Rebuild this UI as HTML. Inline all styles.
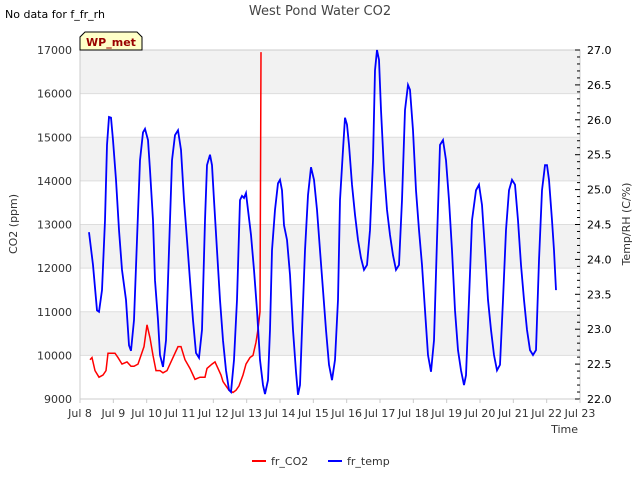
<!DOCTYPE html>
<html><head><meta charset="utf-8"><style>
body{margin:0;background:#fff;font-family:"Liberation Sans","DejaVu Sans",sans-serif}
svg text{font-family:"DejaVu Sans","Liberation Sans",sans-serif}
</style></head><body>
<svg id="chart" width="640" height="480" xmlns="http://www.w3.org/2000/svg">
<g id="bg"></g><g id="axes"></g><g id="marks"></g>
<text x="320" y="15" text-anchor="middle" font-size="13" fill="#444">West Pond Water CO2</text>
<text x="5" y="18" font-size="11" fill="#000">No data for f_fr_rh</text>
<g>
<path d="M80,50 L80,37 L85,32 L137,32 L142,37 L142,50 Z" fill="#ffffc8" stroke="#000" stroke-width="1"/>
<text x="111" y="46" text-anchor="middle" font-size="11" font-weight="bold" fill="#990000">WP_met</text>
</g>
<text transform="translate(17,224) rotate(-90)" text-anchor="middle" font-size="11" fill="#333">CO2 (ppm)</text>
<text transform="translate(630,224) rotate(-90)" text-anchor="middle" font-size="11" fill="#333">Temp/RH (C/%)</text>
<text x="578" y="433" text-anchor="end" font-size="11" fill="#333">Time</text>
<g>
<line x1="252" y1="461" x2="266" y2="461" stroke="#f00" stroke-width="2"/>
<text x="271" y="465" font-size="11" fill="#333">fr_CO2</text>
<line x1="328" y1="461" x2="342" y2="461" stroke="#00f" stroke-width="2"/>
<text x="347" y="465" font-size="11" fill="#333">fr_temp</text>
</g>
</svg>
<script>
const xTickDays=[8,9,10,11,12,13,14,15,16,17,18,19,20,21,22,23];
const yLeftTicks=[9000,10000,11000,12000,13000,14000,15000,16000,17000];
const yRightTicks=[22.0,22.5,23.0,23.5,24.0,24.5,25.0,25.5,26.0,26.5,27.0];
const co2Days=[8.30,8.36,8.45,8.57,8.69,8.78,8.84,9.05,9.14,9.26,9.41,9.53,9.62,9.74,9.83,9.92,10.01,10.10,10.19,10.28,10.40,10.49,10.61,10.76,10.94,11.03,11.15,11.30,11.45,11.60,11.75,11.81,11.96,12.05,12.14,12.23,12.29,12.38,12.47,12.59,12.68,12.77,12.89,12.98,13.10,13.19,13.28,13.34,13.40,13.43];
const co2Values=[9900,9950,9650,9500,9550,9650,10050,10050,9950,9800,9850,9750,9750,9800,10000,10200,10700,10400,10000,9650,9650,9600,9650,9900,10200,10200,9900,9700,9450,9500,9500,9700,9800,9850,9700,9550,9400,9300,9200,9150,9200,9300,9550,9800,9950,10000,10300,10600,11000,16950];
const tempDays=[8.27,8.39,8.51,8.57,8.66,8.75,8.81,8.87,8.93,8.99,9.08,9.17,9.26,9.38,9.47,9.53,9.62,9.71,9.80,9.89,9.95,10.04,10.10,10.19,10.25,10.34,10.40,10.49,10.58,10.67,10.76,10.85,10.94,11.03,11.12,11.21,11.30,11.39,11.48,11.57,11.66,11.75,11.81,11.90,11.96,12.02,12.11,12.20,12.29,12.38,12.47,12.53,12.62,12.71,12.80,12.86,12.92,12.98,13.04,13.13,13.22,13.31,13.40,13.49,13.55,13.64,13.70,13.76,13.85,13.94,14.00,14.06,14.12,14.21,14.30,14.39,14.48,14.54,14.60,14.66,14.75,14.84,14.93,15.02,15.11,15.20,15.29,15.38,15.47,15.56,15.65,15.74,15.80,15.89,15.95,16.01,16.07,16.16,16.25,16.34,16.43,16.52,16.61,16.70,16.79,16.85,16.91,16.97,17.03,17.12,17.21,17.30,17.39,17.48,17.57,17.66,17.75,17.84,17.90,17.99,18.08,18.17,18.26,18.35,18.44,18.53,18.62,18.71,18.80,18.89,18.98,19.07,19.16,19.25,19.34,19.43,19.52,19.58,19.67,19.76,19.88,19.97,20.06,20.15,20.24,20.33,20.42,20.51,20.60,20.69,20.78,20.87,20.96,21.05,21.14,21.23,21.32,21.41,21.50,21.59,21.68,21.77,21.86,21.95,22.01,22.07,22.16,22.22,22.28];
const tempValues=[24.39,23.92,23.27,23.25,23.56,24.56,25.64,26.04,26.03,25.71,25.14,24.42,23.85,23.42,22.77,22.69,23.13,24.28,25.42,25.82,25.87,25.71,25.28,24.56,23.70,23.13,22.63,22.46,22.84,24.13,25.42,25.78,25.85,25.57,24.85,24.28,23.70,23.13,22.66,22.59,22.99,24.56,25.35,25.50,25.35,24.85,24.13,23.42,22.84,22.41,22.13,22.10,22.56,23.42,24.85,24.91,24.88,24.95,24.71,24.35,23.85,23.27,22.56,22.20,22.07,22.27,22.99,24.13,24.71,25.09,25.14,24.99,24.49,24.28,23.78,22.99,22.39,22.06,22.20,22.99,24.13,24.92,25.32,25.14,24.71,24.13,23.56,22.99,22.49,22.27,22.56,23.42,24.85,25.57,26.03,25.93,25.64,25.07,24.64,24.28,24.02,23.85,23.92,24.42,25.42,26.71,27.00,26.86,26.14,25.28,24.71,24.35,24.06,23.85,23.92,24.85,26.14,26.50,26.43,25.85,24.99,24.42,23.92,23.27,22.63,22.39,22.84,24.28,25.64,25.71,25.42,24.85,24.13,23.27,22.70,22.41,22.20,22.34,23.42,24.56,24.99,25.07,24.78,24.13,23.42,22.99,22.63,22.41,22.49,23.42,24.42,24.99,25.14,25.07,24.56,23.92,23.42,22.99,22.70,22.63,22.70,23.99,24.99,25.35,25.35,25.14,24.56,24.13,23.56];

const L=80,R=580,T=50,B=399;
const x=d=>L+(d-8)/15*(R-L);
const yL=v=>B-(v-9000)/8000*(B-T);
const yR=v=>B-(v-22)/5*(B-T);
const NS='http://www.w3.org/2000/svg';
function mk(tag,attrs,parent){const e=document.createElementNS(NS,tag);for(const k in attrs)e.setAttribute(k,attrs[k]);parent.appendChild(e);return e;}
const bg=document.getElementById('bg'),axes=document.getElementById('axes'),marks=document.getElementById('marks');
mk('rect',{x:L,y:T,width:R-L,height:B-T,fill:'#fff'},bg);
for(let i=0;i<yLeftTicks.length-1;i++){
  if(i%2===1){const r=mk('rect',{x:L,y:yL(yLeftTicks[i+1]),width:R-L,height:yL(yLeftTicks[i])-yL(yLeftTicks[i+1]),fill:'#f2f2f2'},bg);
  
  }
}
yLeftTicks.forEach(v=>{
  const g=mk('line',{x1:L,x2:R,y1:yL(v),y2:yL(v),stroke:'#ddd','stroke-width':1},bg);
  
  
  const t=mk('text',{x:L-8,y:yL(v)+4,'text-anchor':'end','font-size':11,fill:'#333'},axes);
  t.textContent=v;
  
  
});
const fr=mk('rect',{x:L,y:T,width:R-L,height:B-T,fill:'none',stroke:'#ccc','stroke-width':1},axes);


for(let v=22;v<=27.001;v+=0.1){
  const major=Math.abs(v*2-Math.round(v*2))<0.01;
  mk('line',{x1:R-(major?5:3),x2:R,y1:yR(v),y2:yR(v),stroke:'#000','stroke-width':1},axes);
}
yRightTicks.forEach(v=>{
  const t=mk('text',{x:R+7,y:yR(v)+4,'font-size':11,fill:'#000'},axes);
  t.textContent=v.toFixed(1);
  
  
});
xTickDays.forEach(d=>{
  mk('line',{x1:x(d),x2:x(d),y1:B,y2:B+4,stroke:'#ccc'},axes);
  const t=mk('text',{x:x(d),y:B+18,'text-anchor':'middle','font-size':11,fill:'#333'},axes);
  t.textContent='Jul '+d;
  
  
});
const pc=mk('polyline',{points:co2Days.map((d,i)=>x(d)+','+yL(co2Values[i])).join(' '),fill:'none',stroke:'#f00','stroke-width':1.5},marks);


const pt=mk('polyline',{points:tempDays.map((d,i)=>x(d)+','+yR(tempValues[i])).join(' '),fill:'none',stroke:'#00f','stroke-width':1.8},marks);


</script>
</body></html>
